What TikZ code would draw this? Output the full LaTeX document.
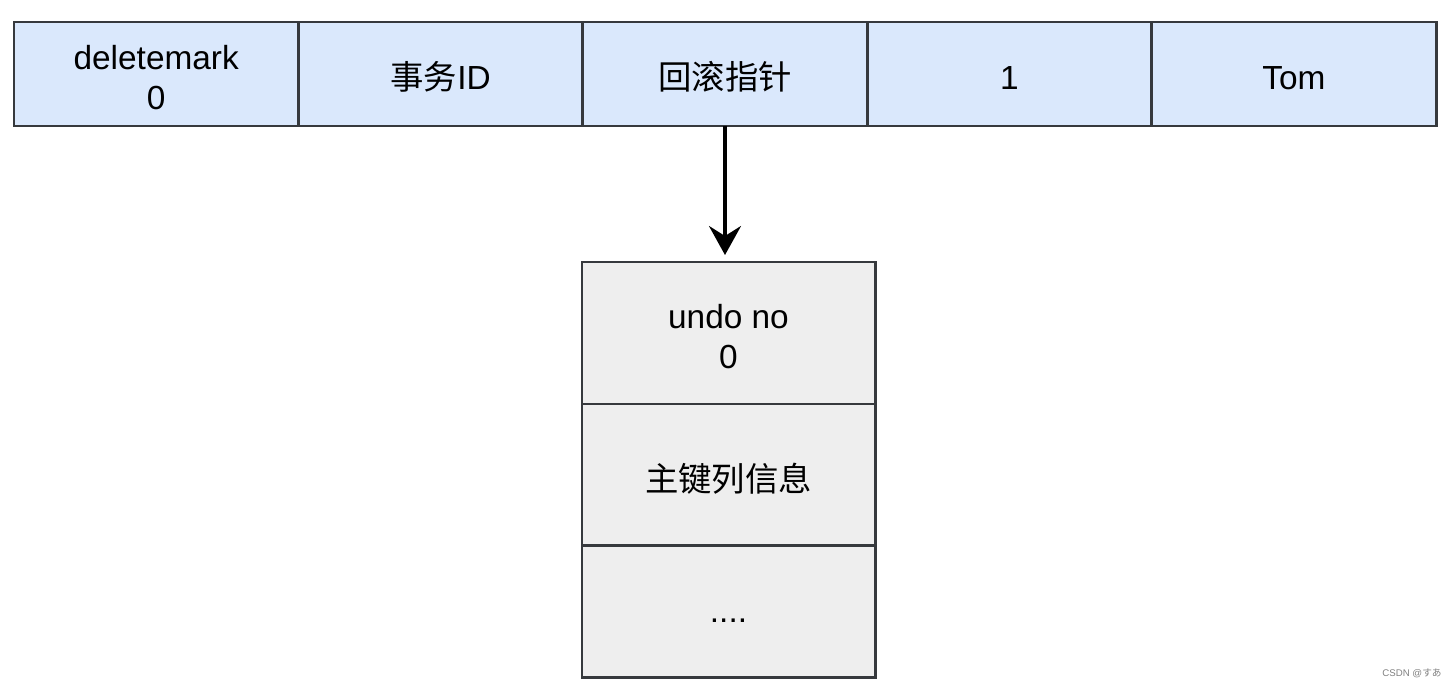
\documentclass[tikz,border=0pt]{standalone}
\usepackage{fontspec}
\setmainfont{Liberation Sans}
\newfontfamily\cjk{Noto Sans CJK SC}
\newfontfamily\jpfont{Noto Sans CJK JP}
\usetikzlibrary{positioning, arrows.meta}
\definecolor{RowBlue}{HTML}{DAE8FC}
\definecolor{UndoGray}{HTML}{EEEEEE}
\definecolor{EdgeGray}{HTML}{36393D}

\begin{document}
\begin{tikzpicture}[
    field/.style={draw=EdgeGray, line width=1.7pt, fill=RowBlue, minimum width=5.688cm, minimum height=2.08cm,
      inner sep=0pt, outer sep=0pt, align=center, font=\fontsize{19}{22.7}\selectfont,
      text height=17.4pt, text depth=0pt},
    twoline/.style={text height=40.6pt, text depth=0pt},
    undofield/.style={field, fill=UndoGray, minimum width=5.86cm}
  ]
    \useasboundingbox (0,0) rectangle (29,-13.88);

    % Record row
    \node[field, twoline] (mark) at (3.124,-1.48) {deletemark\\0};
    \node[field, right=0pt of mark] (trx) {{\cjk 事务}ID};
    \node[field, right=0pt of trx] (roll) {{\cjk 回滚指针}};
    \node[field, right=0pt of roll] (col1) {1};
    \node[field, right=0pt of col1] (col2) {Tom};

    % Undo log record
    \node[undofield, twoline, minimum height=2.84cm, anchor=north] (undo) at (14.57,-5.24) {undo no\\0};
    \node[undofield, minimum height=2.82cm, below=0pt of undo, text height=19.6pt] (pk) {{\cjk 主键列信息}};
    \node[undofield, minimum height=2.64cm, below=0pt of pk, text height=13pt] (rest) {....};

    % Roll pointer
    \draw[-{Stealth[length=5.8mm, width=6.4mm, inset=2mm]}, line width=1.8pt, shorten >=0.14cm]
      (roll.south) -- (roll.south |- undo.north);

    \node[text=gray, font=\fontsize{5.5}{6}\selectfont] (wm) at (28.24,-13.46) {CSDN @{\jpfont すあ}};
\end{tikzpicture}
\end{document}
